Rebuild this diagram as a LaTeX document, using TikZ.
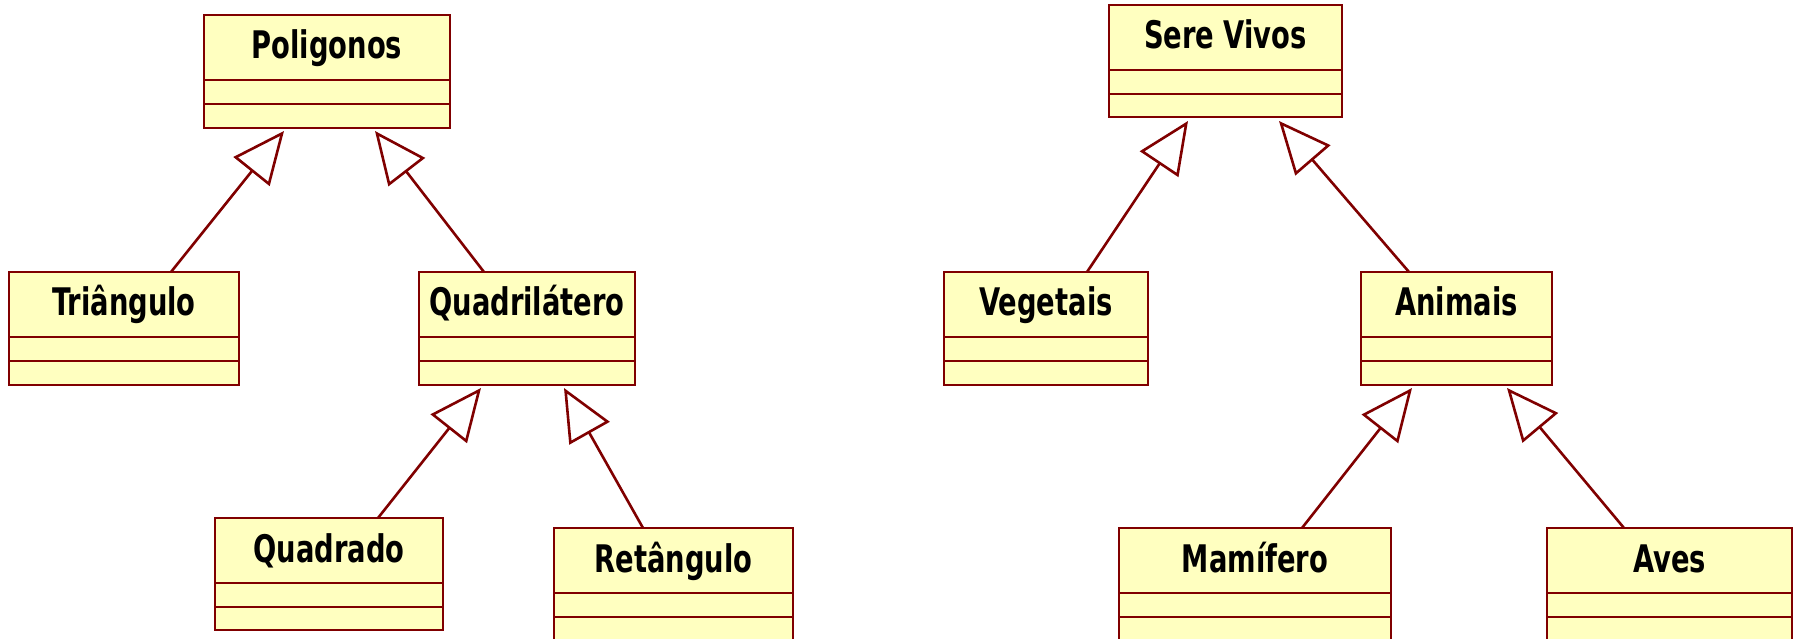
\documentclass[tikz,border=0pt]{standalone}
\usepackage{fontspec}
\newfontfamily\umlfont[FakeStretch=0.8]{DejaVu Sans Condensed}
\usetikzlibrary{arrows.meta}
\definecolor{umlline}{HTML}{800000}
\definecolor{umlfill}{HTML}{FFFFC0}
\tikzset{
  classbox/.style={draw=umlline, fill=umlfill, line width=2.6pt, rectangle,
    inner sep=0pt, outer sep=0pt, anchor=north west},
  classname/.style={font=\umlfont\bfseries\fontsize{38}{38}\selectfont,
    text=black, inner sep=0pt, anchor=base},
  compart/.style={draw=umlline, line width=2.6pt},
  gen/.style={draw=umlline, line width=2.6pt,
    -{Triangle[length=52pt, width=46pt, fill=white]}},
}
% class box: name, left x, top y, width, height, title
\newcommand\umlclass[6]{%
  \node[classbox, minimum width=#4pt, minimum height=#5pt] (#1) at (#2,#3) {};
  \node[classname] (#1-title) at ([yshift=-44pt]#1.north) {#6};
  \draw[compart] ([yshift=-65pt]#1.north west) -- ([yshift=-65pt]#1.north east);
  \draw[compart] ([yshift=-89pt]#1.north west) -- ([yshift=-89pt]#1.north east);
}
\begin{document}
\begin{tikzpicture}[x=1pt, y=-1pt]
  \useasboundingbox[fill=white] (0,0) rectangle (1800,639);

  % Polygons hierarchy
  \umlclass{pol}{204}{15}{246}{113}{Poligonos}
  \umlclass{tri}{9}{272}{230}{113}{Triângulo}
  \umlclass{quad}{419}{272}{216}{113}{Quadrilátero}
  \umlclass{qdo}{215}{518}{228}{112}{Quadrado}
  \umlclass{ret}{554}{528}{239}{113}{Retângulo}

  % Living beings hierarchy
  \umlclass{ser}{1109}{5}{233}{112}{Sere Vivos}
  \umlclass{veg}{944}{272}{204}{113}{Vegetais}
  \umlclass{ani}{1361}{272}{191}{113}{Animais}
  \umlclass{mam}{1119}{528}{272}{113}{Mamífero}
  \umlclass{ave}{1547}{528}{245}{113}{Aves}

  % generalizations
  \draw[gen] ([xshift=162pt]tri.north west) -- ([xshift=80pt,yshift=-3pt]pol.south west);
  \draw[gen] ([xshift=65pt]quad.north west) -- ([xshift=171pt,yshift=-3pt]pol.south west);
  \draw[gen] ([xshift=163pt]qdo.north west) -- ([xshift=62pt,yshift=-3pt]quad.south west);
  \draw[gen] ([xshift=89pt]ret.north west) -- ([xshift=145pt,yshift=-3pt]quad.south west);

  \draw[gen] ([xshift=143pt]veg.north west) -- ([xshift=79pt,yshift=-4pt]ser.south west);
  \draw[gen] ([xshift=48pt]ani.north west) -- ([xshift=170pt,yshift=-4pt]ser.south west);
  \draw[gen] ([xshift=183pt]mam.north west) -- ([xshift=51pt,yshift=-3pt]ani.south west);
  \draw[gen] ([xshift=77pt]ave.north west) -- ([xshift=146pt,yshift=-3pt]ani.south west);
\end{tikzpicture}
\end{document}
